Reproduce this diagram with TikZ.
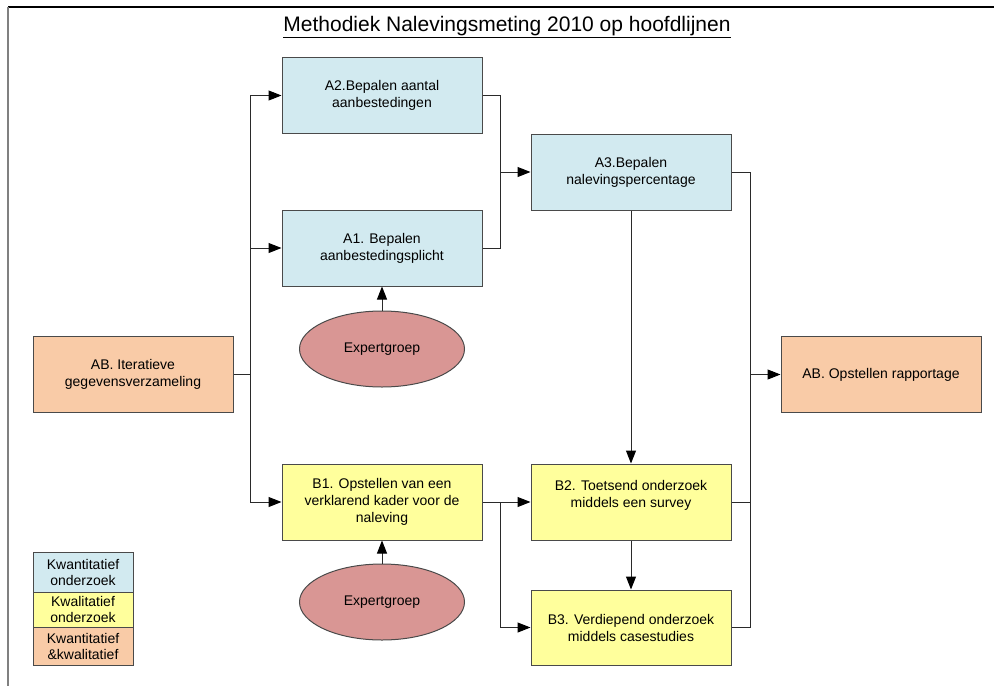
\documentclass[tikz,border=0pt]{standalone}
\usepackage{fontspec}
\setmainfont{Liberation Sans}
\usetikzlibrary{shapes.geometric,arrows.meta}
\definecolor{qblue}{HTML}{D2EAF0}
\definecolor{qyellow}{HTML}{FFFF9C}
\definecolor{qorange}{HTML}{F9CBA7}
\definecolor{qrose}{HTML}{D99694}
\definecolor{qedge}{HTML}{4A4A4A}
\definecolor{qline}{HTML}{2A2A2A}
\tikzset{
  box/.style={draw=qedge, line width=1pt, rectangle, minimum width=200pt, minimum height=76pt,
    align=center, inner sep=2pt, font=\fontsize{14pt}{17pt}\selectfont},
  blue/.style={box, fill=qblue},
  yel/.style={box, fill=qyellow},
  ora/.style={box, fill=qorange},
  expert/.style={ellipse, draw=qedge, line width=1pt, fill=qrose, minimum width=165pt,
    minimum height=76pt, inner sep=0pt, font=\fontsize{14pt}{17pt}\selectfont},
  legend/.style={draw=qedge, line width=1pt, rectangle, minimum width=100pt, align=center,
    inner sep=0pt, font=\fontsize{14pt}{16pt}\selectfont},
  conn/.style={draw=qline, line width=1pt},
  arr/.style={conn, -{Triangle[length=13pt,width=10pt,fill=black,color=black]}},
}
\begin{document}
\begin{tikzpicture}[x=1pt,y=-1pt]
\useasboundingbox (0,0) rectangle (994,686);
% frame
\draw[black, line width=2pt] (8,7) -- (994,7);
\draw[gray, line width=2pt] (8,7) -- (8,686);
% title
\node[font=\fontsize{21pt}{24pt}\selectfont] (title) at (507,27) {\underline{Methodiek Nalevingsmeting 2010 op hoofdlijnen}};
% boxes
\node[blue] (a2) at (382,95.5) {A2.Bepalen aantal\\aanbestedingen};
\node[blue] (a1) at (382,248) {A1. Bepalen\\aanbestedingsplicht};
\node[blue] (a3) at (631,172) {A3.Bepalen\\nalevingspercentage};
\node[ora] (abi) at (133,374.5) {AB. Iteratieve\\gegevensverzameling};
\node[ora] (abo) at (881,374.5) {AB. Opstellen rapportage};
\node[yel] (b1) at (382,502) {B1. Opstellen van een\\verklarend kader voor de\\naleving};
\node[yel] (b2) at (631,502) {B2. Toetsend onderzoek\\middels een survey\\~};
\node[yel, minimum height=75pt] (b3) at (631,627.5) {B3. Verdiepend onderzoek\\middels casestudies};
\node[expert] (e1) at (382,349) {Expertgroep};
\node[expert] (e2) at (382,602) {Expertgroep};
% legend
\node[legend, fill=qblue, minimum height=40pt] (l1) at (83,572) {Kwantitatief\\onderzoek};
\node[legend, fill=qyellow, minimum height=35pt] (l2) at (83,609.5) {Kwalitatief\\onderzoek};
\node[legend, fill=qorange, minimum height=38pt] (l3) at (83,646) {Kwantitatief\\\&kwalitatief};
% junctions
\coordinate (t1) at (250,374.5);
\coordinate (t2) at (500,172);
\coordinate (t3) at (750,374.5);
\coordinate (t4) at (500,502);
% connectors
\draw[conn] (abi.east) -- (t1);
\draw[arr] (t1) |- (a2.west);
\draw[arr] (t1) |- (a1.west);
\draw[arr] (t1) |- (b1.west);
\draw[conn] (a2.east) -| (t2);
\draw[conn] (a1.east) -| (t2);
\draw[arr] (t2) -- (a3.west);
\draw[arr] (a3.south) -- (b2.north);
\draw[conn] (a3.east) -| (t3);
\draw[conn] (b2.east) -| (t3);
\draw[conn] (b3.east) -| (t3);
\draw[arr] (t3) -- (abo.west);
\draw[arr] (b1.east) -- (b2.west);
\draw[arr] (t4) |- (b3.west);
\draw[arr] (b2.south) -- (b3.north);
\draw[arr] (e1.north) -- (a1.south);
\draw[arr] (e2.north) -- (b1.south);
\end{tikzpicture}
\end{document}
